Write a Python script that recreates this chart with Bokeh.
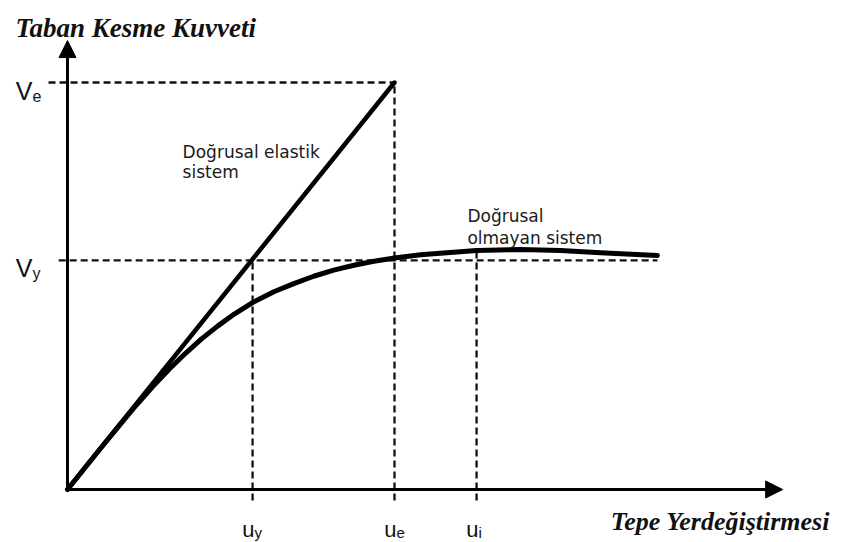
from bokeh.plotting import figure
from bokeh.models import Range1d, Arrow, NormalHead, Label
from bokeh.embed import file_html
from bokeh.resources import INLINE
from bokeh.core.properties import value

# ---- data (normalised units: u_e = 1, V_e = 1) ----
u_names = ["y", "e", "i"]
u_vals = [0.566, 1.0, 1.251]
u_tops = [0.563, 1.0, 0.587]          # where each vertical guide meets the curve/lines

V_names = ["e", "y"]
V_vals = [1.0, 0.563]
V_ends = [1.0, 1.804]                 # right end of each horizontal guide

elastic_x = [0.0, 1.0]
elastic_y = [0.0, 1.0]

nonlin_x = [0.0, 0.10, 0.16, 0.21, 0.26, 0.31, 0.36, 0.41, 0.46, 0.51, 0.567,
            0.631, 0.692, 0.753, 0.814, 0.876, 0.937, 1.0, 1.08, 1.16, 1.251,
            1.385, 1.508, 1.63, 1.804]
nonlin_y = [0.0, 0.100, 0.159, 0.207, 0.2525, 0.295, 0.334, 0.370, 0.402, 0.431,
            0.460, 0.486, 0.506, 0.524, 0.539, 0.551, 0.561, 0.569, 0.577, 0.582,
            0.587, 0.590, 0.587, 0.582, 0.575]

x_axis_end = 2.187
y_axis_end = 1.103

W, H = 845, 542
p = figure(width=W, height=H, x_range=Range1d(-0.2049, 2.3792),
           y_range=Range1d(-0.1302, 1.2015), output_backend="svg",
           toolbar_location=None, x_axis_type=None, y_axis_type=None,
           min_border=0, outline_line_color=None)
p.grid.visible = False
p.background_fill_color = "white"
p.border_fill_color = "white"

DASH = "7 4"
# guides
p.segment(x0=u_vals, y0=[-0.027] * 3, x1=u_vals, y1=u_tops,
          line_color="#111111", line_width=2.3, line_dash=DASH)
p.segment(x0=[-0.058, -0.027], y0=V_vals, x1=V_ends, y1=V_vals,
          line_color="#111111", line_width=2.3, line_dash=DASH)

# axes with arrows
head = dict(size=17, fill_color="black", line_color="black")
p.add_layout(Arrow(end=NormalHead(**head), x_start=0, y_start=0, x_end=x_axis_end,
                   y_end=0, line_width=3, line_color="black"))
p.add_layout(Arrow(end=NormalHead(**head), x_start=0, y_start=0, x_end=0,
                   y_end=y_axis_end, line_width=3, line_color="black"))

# curves
p.line(elastic_x, elastic_y, line_color="black", line_width=4.5, line_cap="round")
p.line(nonlin_x, nonlin_y, line_color="black", line_width=5,
       line_join="round", line_cap="round")

SANS = value("Liberation Sans")
# V labels
p.text(x=[0, 0], y=V_vals, text=["V", "V"], x_offset=-35, y_offset=8,
       text_align="right", text_baseline="alphabetic", text_font=SANS,
       text_font_size="25px", text_color="#111111")
p.text(x=[0, 0], y=V_vals, text=V_names, x_offset=-35, y_offset=13,
       text_align="left", text_baseline="alphabetic", text_font=SANS,
       text_font_size="16px", text_color="#111111")
# u labels
p.text(x=u_vals, y=[0] * 3, text=["u"] * 3, x_offset=2, y_offset=40,
       text_align="right", text_baseline="alphabetic", text_font=SANS,
       text_font_size="22px", text_color="#111111")
p.text(x=u_vals, y=[0] * 3, text=u_names, x_offset=2, y_offset=43,
       text_align="left", text_baseline="alphabetic", text_font=SANS,
       text_font_size="15px", text_color="#111111")

# annotations
ann = dict(text_font="DejaVu Sans", text_font_size="17px", text_color="#1a1a1a",
           text_baseline="alphabetic")
p.add_layout(Label(x=0.352, y=0.830, text="Doğrusal elastik", **ann))
p.add_layout(Label(x=0.352, y=0.779, text="sistem", **ann))
p.add_layout(Label(x=1.223, y=0.673, text="Doğrusal", **ann))
p.add_layout(Label(x=1.223, y=0.619, text="olmayan sistem", **ann))

ttl = dict(text_font="Liberation Serif", text_font_style="bold italic",
           text_color="#111111", text_baseline="alphabetic")
p.add_layout(Label(x=-0.159, y=1.135, text="Taban Kesme Kuvveti",
                   text_font_size="27px", **ttl))
p.add_layout(Label(x=1.661, y=-0.079, text="Tepe Yerdeğiştirmesi",
                   text_font_size="26px", **ttl))

open("out.html", "w").write(file_html(p, INLINE))
